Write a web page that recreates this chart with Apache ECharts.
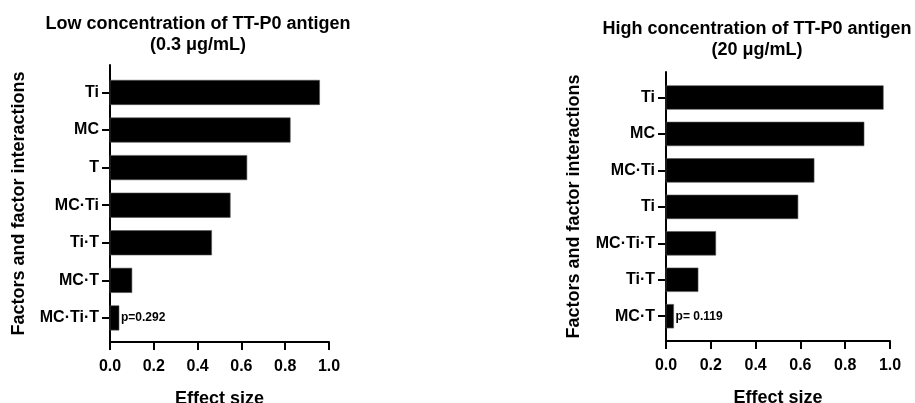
<!DOCTYPE html>
<html>
<head>
<meta charset="utf-8">
<script src="https://cdn.jsdelivr.net/npm/echarts@6/dist/echarts.min.js"></script>
<style>
html,body{margin:0;padding:0;background:#fff;}
#c{width:915px;height:403px;}
</style>
</head>
<body>
<div id="c"></div>
<script>
// ---- data ----
const lowCategories = ['Ti', 'MC', 'T', 'MC·Ti', 'Ti·T', 'MC·T', 'MC·Ti·T'];
const lowValues = [0.957, 0.823, 0.625, 0.549, 0.464, 0.100, 0.041];
const lowNotes = ['', '', '', '', '', '', 'p=0.292'];

const highCategories = ['Ti', 'MC', 'MC·Ti', 'Ti', 'MC·Ti·T', 'Ti·T', 'MC·T'];
const highValues = [0.970, 0.884, 0.661, 0.589, 0.222, 0.143, 0.034];
const highNotes = ['', '', '', '', '', '', 'p= 0.119'];

const xTicks = [0, 0.2, 0.4, 0.6, 0.8, 1.0];
const titles = [
  ['Low concentration of TT-P0 antigen', '(0.3 μg/mL)'],
  ['High concentration of TT-P0 antigen', '(20 μg/mL)']
];
const xName = 'Effect size';
const yName = 'Factors and factor interactions';

// ---- chart ----
const FONT = '"Liberation Sans", Arial, Helvetica, sans-serif';
const chart = echarts.init(document.getElementById('c'), null, {renderer: 'canvas'});

const panels = [
  {cats: lowCategories, vals: lowValues, notes: lowNotes,
   grid: {left: 110, top: 65, width: 219, height: 277}, yMin: -0.73, yMax: 6.64, nameGap: 82},
  {cats: highCategories, vals: highValues, notes: highNotes,
   grid: {left: 666, top: 72, width: 224, height: 269}, yMin: -0.70, yMax: 6.68, nameGap: 83}
];

const idx = [0, 1, 2, 3, 4, 5, 6];

const option = {
  animation: false,
  backgroundColor: '#fff',
  textStyle: {fontFamily: FONT},
  title: [
    {text: titles[0][0] + '\n' + titles[0][1], left: 193, top: 9, textAlign: 'center',
     textStyle: {fontFamily: FONT, fontWeight: 'bold', fontSize: 18, lineHeight: 21, color: '#000', align: 'center'}},
    {text: titles[1][0] + '\n' + titles[1][1], left: 752, top: 14, textAlign: 'center',
     textStyle: {fontFamily: FONT, fontWeight: 'bold', fontSize: 18, lineHeight: 21, color: '#000', align: 'center'}}
  ],
  grid: panels.map(p => Object.assign({containLabel: false, outerBoundsMode: 'none'}, p.grid)),
  xAxis: panels.map((p, i) => ({
    type: 'value', gridIndex: i, min: 0, max: 1, interval: 0.2, position: 'bottom',
    name: xName, nameLocation: 'middle', nameGap: 48,
    nameTextStyle: {fontFamily: FONT, fontWeight: 'bold', fontSize: 18, color: '#000'},
    axisLine: {show: true, onZero: false, lineStyle: {color: '#000', width: 2}},
    axisTick: {show: true, length: 8, lineStyle: {color: '#000', width: 2}},
    axisLabel: {margin: 17, fontFamily: FONT, fontWeight: 'bold', fontSize: 16, color: '#000',
                formatter: v => v.toFixed(1)},
    splitLine: {show: false}
  })),
  yAxis: panels.map((p, i) => ({
    type: 'value', gridIndex: i, inverse: true, min: p.yMin, max: p.yMax, position: 'left',
    name: yName, nameLocation: 'middle', nameGap: p.nameGap, nameRotate: 90,
    nameTextStyle: {fontFamily: FONT, fontWeight: 'bold', fontSize: 18, color: '#000'},
    axisLine: {show: true, onZero: false, lineStyle: {color: '#000', width: 2}},
    axisTick: {show: true, length: 8, customValues: idx, lineStyle: {color: '#000', width: 2}},
    axisLabel: {show: true, margin: 11, customValues: idx, fontFamily: FONT, fontWeight: 'bold',
                fontSize: 16, color: '#000',
                formatter: v => p.cats[Math.round(v)] || ''},
    splitLine: {show: false}
  })),
  series: panels.map((p, i) => ({
    type: 'custom', xAxisIndex: i, yAxisIndex: i,
    data: p.vals.map((v, k) => [v, k]),
    encode: {x: 0, y: 1},
    renderItem: (params, api) => {
      const v = api.value(0), k = api.value(1);
      const end = api.coord([v, k]);
      const start = api.coord([0, k]);
      const h = Math.abs(api.size([0, 1])[1]) * 0.65;
      const note = p.notes[k];
      const children = [{
        type: 'rect',
        shape: {x: start[0], y: end[1] - h / 2, width: end[0] - start[0], height: h},
        style: {fill: '#000', stroke: '#555', lineWidth: 0.6}
      }];
      if (note) {
        children.push({
          type: 'text',
          style: {text: note, x: end[0] + 2, y: end[1], verticalAlign: 'middle', align: 'left',
                  font: 'bold 12px ' + FONT, fill: '#000'}
        });
      }
      return {type: 'group', children};
    }
  }))
};
chart.setOption(option);
</script>
</body>
</html>
